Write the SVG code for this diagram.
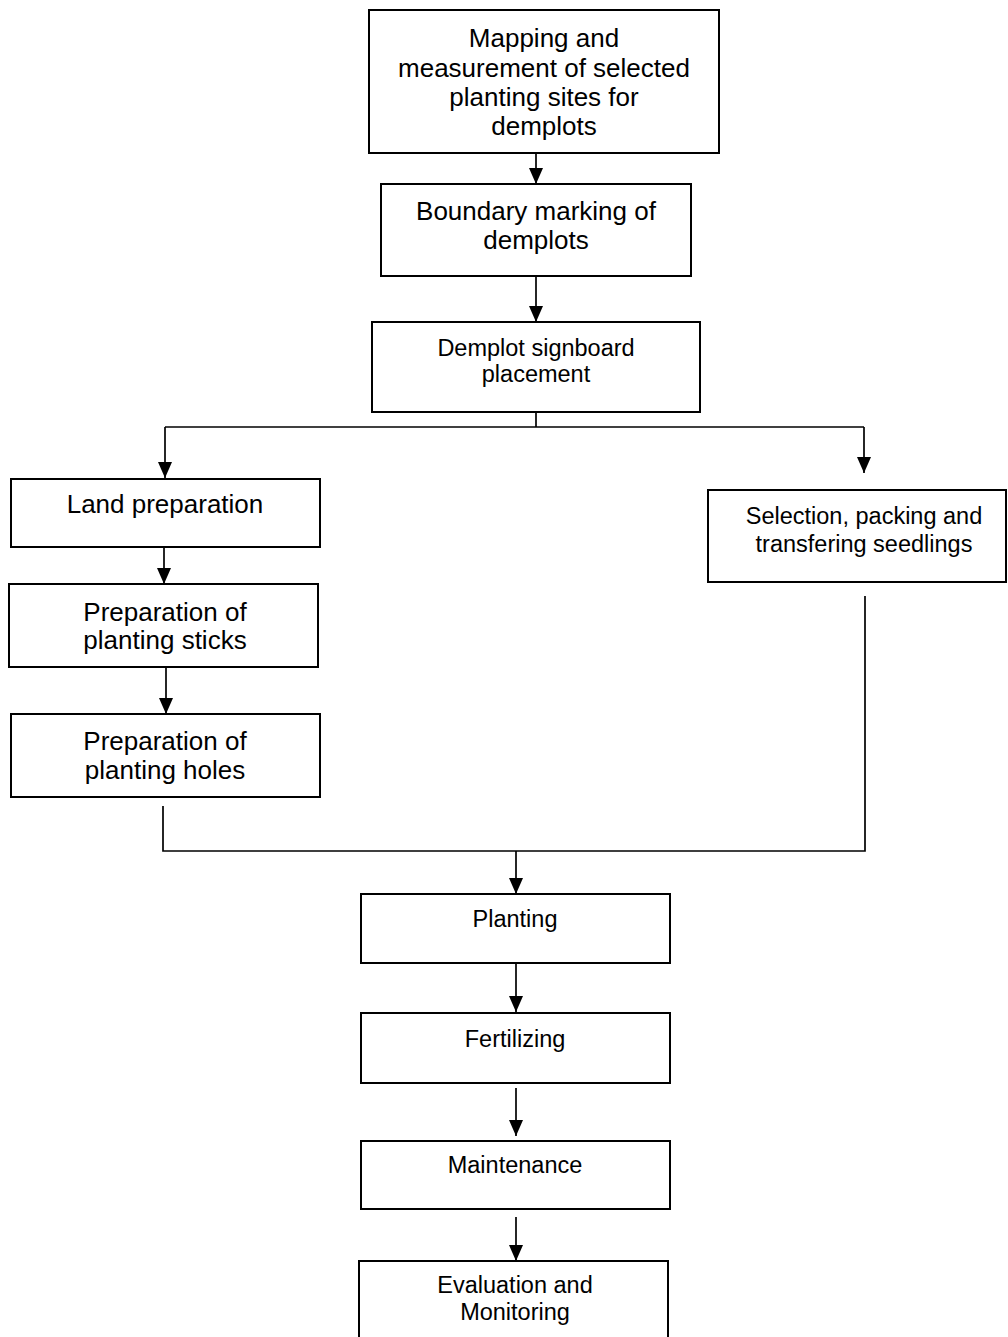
<svg xmlns="http://www.w3.org/2000/svg" width="1008" height="1337" viewBox="0 0 1008 1337">
<style>
.box{fill:#fff;stroke:#000;stroke-width:2}
.lbl{font-family:"Liberation Sans",Arial,sans-serif;fill:#000;text-anchor:middle}
.lg{font-size:26px}
.sm{font-size:23.5px}
.con{fill:none;stroke:#000;stroke-width:1.7}
</style>
<defs>
<marker id="arr" markerUnits="userSpaceOnUse" markerWidth="16" markerHeight="14" refX="16" refY="7" orient="auto">
<path d="M0,0 L16,7 L0,14 z" fill="#000"/>
</marker>
</defs>
<rect width="1008" height="1337" fill="#fff"/>
<g id="connectors">
<line class="con" x1="536" y1="153" x2="536" y2="184" marker-end="url(#arr)"/>
<line class="con" x1="536" y1="276" x2="536" y2="322" marker-end="url(#arr)"/>
<line class="con" x1="536" y1="412" x2="536" y2="427"/>
<line class="con" x1="165" y1="427" x2="864" y2="427"/>
<line class="con" x1="165" y1="427" x2="165" y2="478" marker-end="url(#arr)"/>
<line class="con" x1="864" y1="427" x2="864" y2="473" marker-end="url(#arr)"/>
<line class="con" x1="164" y1="547" x2="164" y2="584" marker-end="url(#arr)"/>
<line class="con" x1="166" y1="668" x2="166" y2="714" marker-end="url(#arr)"/>
<polyline class="con" points="163,806 163,851 865,851 865,596"/>
<line class="con" x1="516" y1="851" x2="516" y2="894" marker-end="url(#arr)"/>
<line class="con" x1="516" y1="964" x2="516" y2="1012" marker-end="url(#arr)"/>
<line class="con" x1="516" y1="1088" x2="516" y2="1136" marker-end="url(#arr)"/>
<line class="con" x1="516" y1="1217" x2="516" y2="1261" marker-end="url(#arr)"/>
</g>
<g id="n-mapping">
<rect class="box" x="369" y="10" width="350" height="143"/>
<text class="lbl lg" x="544" y="47">Mapping and</text>
<text class="lbl lg" x="544" y="77">measurement of selected</text>
<text class="lbl lg" x="544" y="106">planting sites for</text>
<text class="lbl lg" x="544" y="135">demplots</text>
</g>
<g id="n-boundary">
<rect class="box" x="381" y="184" width="310" height="92"/>
<text class="lbl lg" x="536" y="220">Boundary marking of</text>
<text class="lbl lg" x="536" y="249">demplots</text>
</g>
<g id="n-signboard">
<rect class="box" x="372" y="322" width="328" height="90"/>
<text class="lbl sm" x="536" y="356">Demplot signboard</text>
<text class="lbl sm" x="536" y="382">placement</text>
</g>
<g id="n-land">
<rect class="box" x="11" y="479" width="309" height="68"/>
<text class="lbl lg" x="165" y="513">Land preparation</text>
</g>
<g id="n-sticks">
<rect class="box" x="9" y="584" width="309" height="83"/>
<text class="lbl lg" x="165" y="621">Preparation of</text>
<text class="lbl lg" x="165" y="649">planting sticks</text>
</g>
<g id="n-holes">
<rect class="box" x="11" y="714" width="309" height="83"/>
<text class="lbl lg" x="165" y="750">Preparation of</text>
<text class="lbl lg" x="165" y="779">planting holes</text>
</g>
<g id="n-selection">
<rect class="box" x="708" y="490" width="298" height="92"/>
<text class="lbl sm" x="864" y="524">Selection, packing and</text>
<text class="lbl sm" x="864" y="552">transfering seedlings</text>
</g>
<g id="n-planting">
<rect class="box" x="361" y="894" width="309" height="69"/>
<text class="lbl sm" x="515" y="927">Planting</text>
</g>
<g id="n-fertilizing">
<rect class="box" x="361" y="1013" width="309" height="70"/>
<text class="lbl sm" x="515" y="1047">Fertilizing</text>
</g>
<g id="n-maintenance">
<rect class="box" x="361" y="1141" width="309" height="68"/>
<text class="lbl sm" x="515" y="1173">Maintenance</text>
</g>
<g id="n-evaluation">
<rect class="box" x="359" y="1261" width="309" height="90"/>
<text class="lbl sm" x="515" y="1293">Evaluation and</text>
<text class="lbl sm" x="515" y="1320">Monitoring</text>
</g>
</svg>
